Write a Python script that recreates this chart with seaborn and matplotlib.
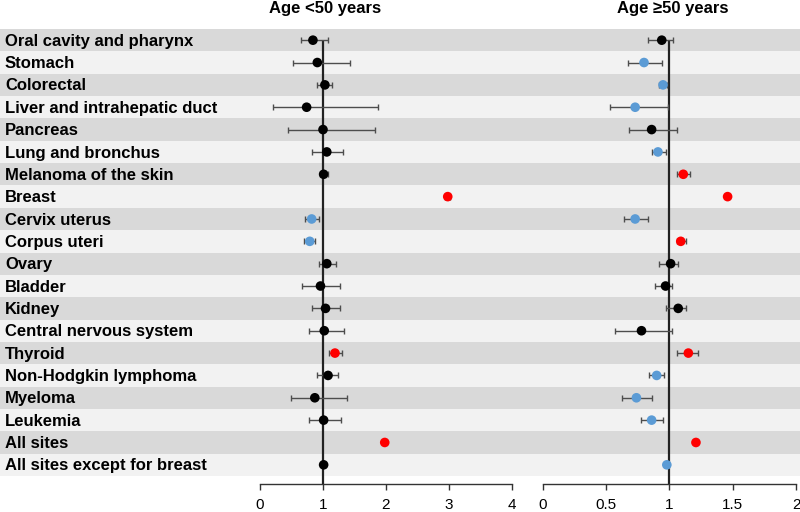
import numpy as np
import pandas as pd
import matplotlib
matplotlib.use('Agg')
import matplotlib.pyplot as plt
import seaborn as sns

sites = ['Oral cavity and pharynx', 'Stomach', 'Colorectal', 'Liver and intrahepatic duct',
         'Pancreas', 'Lung and bronchus', 'Melanoma of the skin', 'Breast', 'Cervix uterus',
         'Corpus uteri', 'Ovary', 'Bladder', 'Kidney', 'Central nervous system', 'Thyroid',
         'Non-Hodgkin lymphoma', 'Myeloma', 'Leukemia', 'All sites', 'All sites except for breast']

# age < 50
young_est = [0.84, 0.91, 1.03, 0.74, 1.00, 1.06, 1.01, 2.98, 0.82, 0.79,
             1.06, 0.96, 1.04, 1.02, 1.19, 1.08, 0.87, 1.01, 1.98, 1.01]
young_lo = [0.65, 0.52, 0.90, 0.21, 0.44, 0.82, 0.95, 2.94, 0.72, 0.70,
            0.94, 0.67, 0.82, 0.77, 1.10, 0.91, 0.49, 0.77, 1.98, 1.01]
young_hi = [1.08, 1.43, 1.15, 1.87, 1.83, 1.32, 1.08, 3.02, 0.93, 0.88,
            1.20, 1.27, 1.27, 1.34, 1.30, 1.24, 1.38, 1.29, 1.98, 1.01]
young_grp = ['ns', 'ns', 'ns', 'ns', 'ns', 'ns', 'ns', 'high', 'low', 'low',
             'ns', 'ns', 'ns', 'ns', 'high', 'ns', 'ns', 'ns', 'high', 'ns']

# age >= 50
old_est = [0.94, 0.80, 0.95, 0.73, 0.86, 0.91, 1.11, 1.46, 0.73, 1.09,
           1.01, 0.97, 1.07, 0.78, 1.15, 0.90, 0.74, 0.86, 1.21, 0.98]
old_lo = [0.83, 0.67, 0.92, 0.53, 0.68, 0.86, 1.06, 1.46, 0.64, 1.06,
          0.92, 0.89, 0.97, 0.57, 1.06, 0.84, 0.63, 0.78, 1.21, 0.98]
old_hi = [1.03, 0.94, 0.98, 0.99, 1.06, 0.97, 1.16, 1.46, 0.83, 1.13,
          1.07, 1.02, 1.13, 1.02, 1.23, 0.96, 0.86, 0.95, 1.21, 0.98]
old_grp = ['ns', 'low', 'low', 'low', 'ns', 'low', 'high', 'high', 'low', 'high',
           'ns', 'ns', 'ns', 'ns', 'high', 'low', 'low', 'low', 'high', 'low']

titles = ['Age <50 years', 'Age \u226550 years']
xticks_young = [0, 1, 2, 3, 4]
xticks_old = [0, 0.5, 1, 1.5, 2]

colors = {'ns': 'black', 'low': '#5B9BD5', 'high': '#FF0000'}

sns.set_style('white')
plt.rcParams['font.family'] = ['Liberation Sans', 'DejaVu Sans']
plt.rcParams['text.color'] = 'black'
plt.rcParams['xtick.color'] = '#333333'
plt.rcParams['xtick.labelcolor'] = 'black'

n = len(sites)
ypos = n - 0.5 - np.arange(n)

fig = plt.figure(figsize=(8, 5.12), dpi=100)
bottom = (512 - 484) / 512
top = (512 - 29) / 512
ylim = (-(484 - 476) / 22.35, n)

# striped background across the full width
bg = fig.add_axes([0, bottom, 1, top - bottom])
bg.set_xlim(0, 1)
bg.set_ylim(*ylim)
for i in range(n):
    c = '#d9d9d9' if i % 2 == 0 else '#f2f2f2'
    bg.barh(ypos[i], 1, height=1, left=0, color=c, linewidth=0)
    bg.text(5 / 800, ypos[i] - 0.05, sites[i], fontsize=12, fontweight='bold',
            color='black', va='center', ha='left')
bg.axis('off')

panels = [
    (young_est, young_lo, young_hi, young_grp, (0, 4), xticks_young, [260 / 800, 252 / 800], 325),
    (old_est, old_lo, old_hi, old_grp, (0, 2), xticks_old, [542.7 / 800, 253.3 / 800], 673),
]

for k, (est, lo, hi, grp, xl, ticks, (left, width), tx) in enumerate(panels):
    ax = fig.add_axes([left, bottom, width, top - bottom])
    ax.patch.set_alpha(0)
    df = pd.DataFrame({'site': sites, 'est': est, 'lo': lo, 'hi': hi, 'grp': grp, 'y': ypos})
    ax.vlines(1, ylim[0], ypos[0], color='#222222', linewidth=1.6, zorder=1)
    ax.errorbar(df['est'], df['y'],
                xerr=[df['est'] - df['lo'], df['hi'] - df['est']],
                fmt='none', ecolor='#4d4d4d', elinewidth=1.0, capsize=2.4, capthick=1.0, zorder=2)
    sns.scatterplot(data=df, x='est', y='y', hue='grp', palette=colors, s=48,
                    edgecolor='none', legend=False, ax=ax, zorder=3)
    ax.set_xlim(*xl)
    ax.set_ylim(*ylim)
    ax.set_xticks(ticks)
    ax.set_xticklabels([('%g' % t) for t in ticks], fontsize=11)
    ax.set_yticks([])
    ax.set_xlabel('')
    ax.set_ylabel('')
    for s in ['top', 'right', 'left']:
        ax.spines[s].set_visible(False)
    ax.spines['bottom'].set_color('#333333')
    ax.spines['bottom'].set_linewidth(1.0)
    ax.tick_params(axis='x', bottom=True, direction='out', length=4, width=1.0,
                   color='#333333', labelcolor='black', pad=6)
    fig.text(tx / 800, 1 - 9 / 512, titles[k], fontsize=12, fontweight='bold',
             color='black', ha='center', va='center')

fig.savefig('out.png', dpi=100)
